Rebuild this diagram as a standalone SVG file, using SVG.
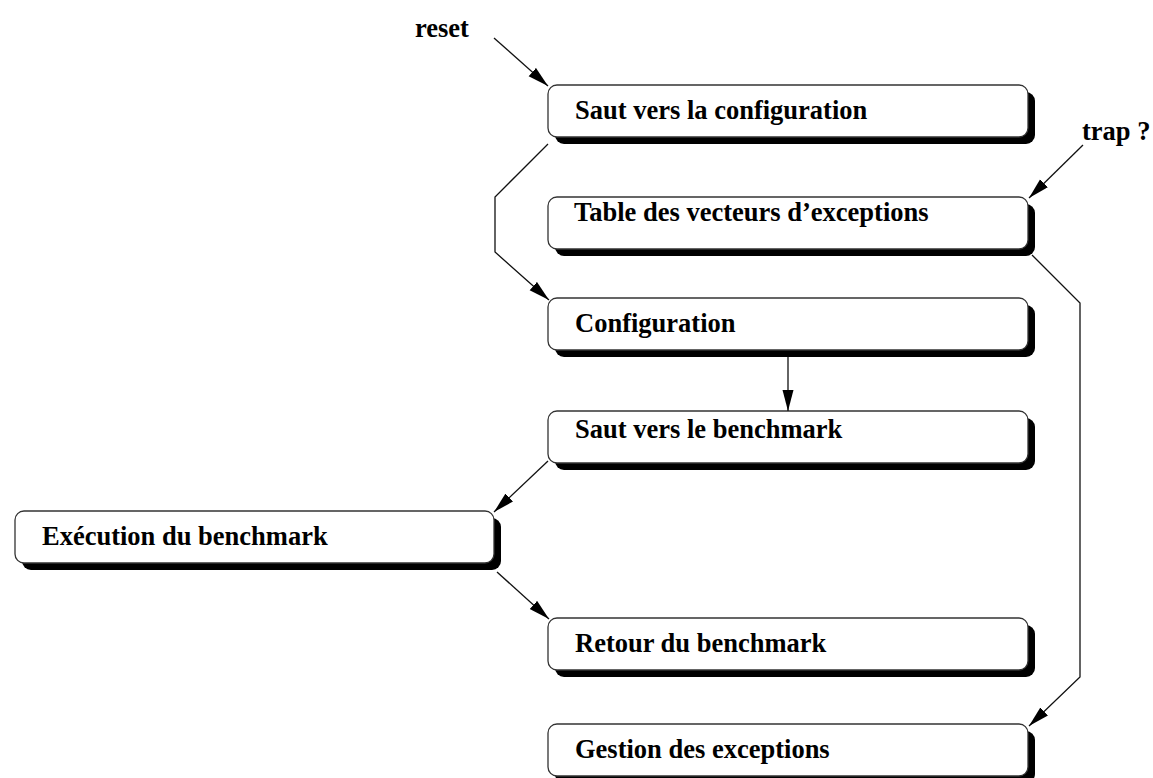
<svg xmlns="http://www.w3.org/2000/svg" width="1153" height="778" viewBox="0 0 1153 778">
  <defs>
    <style>
      .shadow { fill: #000; }
      .box { fill: #fff; stroke: #333; stroke-width: 1.3; }
      .label { font-family: "Liberation Serif", "Times New Roman", serif; font-weight: bold; font-size: 26.5px; fill: #000; }
      .edge { fill: none; stroke: #111; stroke-width: 1.3; }
    </style>
    <marker id="arrow" markerUnits="userSpaceOnUse" markerWidth="22" markerHeight="12" refX="21" refY="5.5" orient="auto">
      <path d="M0,0 L21,5.5 L0,11 z" fill="#000"/>
    </marker>
  </defs>

  <rect width="1153" height="778" fill="#fff"/>

  <!-- free labels -->
  <text class="label" x="415" y="37">reset</text>
  <text class="label" x="1082" y="140">trap ?</text>

  <!-- nodes -->
  <g id="saut-config">
    <rect class="shadow" x="555" y="92" width="480" height="52" rx="9"/>
    <rect class="box" x="548" y="85" width="480" height="52" rx="9"/>
    <text class="label" x="575" y="119">Saut vers la configuration</text>
  </g>
  <g id="table-vecteurs">
    <rect class="shadow" x="555" y="204" width="480" height="52" rx="9"/>
    <rect class="box" x="548" y="197" width="480" height="52" rx="9"/>
    <text class="label" x="574" y="221">Table des vecteurs d’exceptions</text>
  </g>
  <g id="configuration">
    <rect class="shadow" x="555" y="305" width="480" height="52" rx="9"/>
    <rect class="box" x="548" y="298" width="480" height="52" rx="9"/>
    <text class="label" x="575" y="332">Configuration</text>
  </g>
  <g id="saut-benchmark">
    <rect class="shadow" x="555" y="418" width="480" height="52" rx="9"/>
    <rect class="box" x="548" y="411" width="480" height="52" rx="9"/>
    <text class="label" x="575" y="438">Saut vers le benchmark</text>
  </g>
  <g id="execution">
    <rect class="shadow" x="22" y="518" width="479" height="52" rx="9"/>
    <rect class="box" x="15" y="511" width="479" height="52" rx="9"/>
    <text class="label" x="42" y="545">Exécution du benchmark</text>
  </g>
  <g id="retour">
    <rect class="shadow" x="555" y="625" width="480" height="52" rx="9"/>
    <rect class="box" x="548" y="618" width="480" height="52" rx="9"/>
    <text class="label" x="575" y="652">Retour du benchmark</text>
  </g>
  <g id="gestion">
    <rect class="shadow" x="555" y="731" width="480" height="52" rx="9"/>
    <rect class="box" x="548" y="724" width="480" height="52" rx="9"/>
    <text class="label" x="575" y="758">Gestion des exceptions</text>
  </g>

  <!-- connectors -->
  <g id="connectors">
    <line class="edge" x1="494" y1="38" x2="548" y2="86" marker-end="url(#arrow)"/>
    <line class="edge" x1="1083" y1="145" x2="1029" y2="198" marker-end="url(#arrow)"/>
    <polyline class="edge" points="548,144 495,197 495,252 549,300" marker-end="url(#arrow)"/>
    <line class="edge" x1="788" y1="357" x2="788" y2="411" marker-end="url(#arrow)"/>
    <line class="edge" x1="548" y1="461" x2="494" y2="512" marker-end="url(#arrow)"/>
    <line class="edge" x1="497" y1="572" x2="549" y2="619" marker-end="url(#arrow)"/>
    <polyline class="edge" points="1032,255 1080,303 1080,677 1029,726" marker-end="url(#arrow)"/>
  </g>
</svg>
